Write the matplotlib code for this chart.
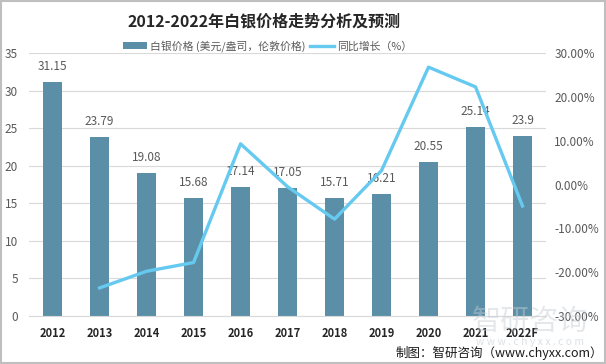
import matplotlib.pyplot as plt
from matplotlib.ticker import FuncFormatter
import numpy as np

plt.rcParams['font.family'] = ['Noto Sans CJK SC', 'DejaVu Sans']

years = ['2012', '2013', '2014', '2015', '2016', '2017', '2018', '2019', '2020', '2021', '2022F']
price = [31.15, 23.79, 19.08, 15.68, 17.14, 17.05, 15.71, 16.21, 20.55, 25.14, 23.9]
# growth in %, no value for 2012
growth = [np.nan, -23.6, -19.8, -17.8, 9.3, -0.5, -7.9, 3.2, 26.8, 22.3, -4.9]

bar_color = '#5b8fa7'
line_color = '#66c9f0'
grey = '#595959'

fig = plt.figure(figsize=(6.06, 3.64), dpi=100)
ax = fig.add_axes([0.048, 0.132, 0.853, 0.722])
ax2 = ax.twinx()

x = np.arange(len(years))
bars = ax.bar(x, price, width=0.4, color=bar_color, zorder=2)
for xi, v in zip(x, price):
    ax.text(xi, v + 1.2, f'{v:g}', ha='center', va='bottom', fontsize=8.5, color=grey)

ln, = ax2.plot(x, growth, color=line_color, lw=2.4, zorder=3)

ax.set_xlim(-0.5, len(years) - 0.5)
ax.set_ylim(0, 35)
ax.set_yticks(range(0, 36, 5))
ax2.set_ylim(-30, 30)
ax2.set_yticks(range(-30, 31, 10))
ax2.yaxis.set_major_formatter(FuncFormatter(lambda v, p: f'{v:.2f}%'))

ax.set_xticks(x)
ax.set_xticklabels(years, fontsize=8, fontweight='bold', color='#262626')
ax.grid(axis='y', color='#d9d9d9', lw=0.8, zorder=0)
ax.set_axisbelow(True)
for a in (ax, ax2):
    for s in a.spines.values():
        s.set_visible(False)
    a.tick_params(length=0, labelsize=8.5, labelcolor=grey)
ax.tick_params(axis='x', pad=8, labelsize=8, labelcolor='#262626')
ax.spines['bottom'].set_visible(True)
ax.spines['bottom'].set_color('#d9d9d9')
ax.tick_params(axis='y', pad=8)
ax2.tick_params(axis='y', pad=6)

fig.text(0.435, 0.94, '2012-2022年白银价格走势分析及预测', ha='center', va='center',
         fontsize=11.5, fontweight='bold', color='#262626')
fig.legend([bars, ln], ['白银价格 (美元/盎司，伦敦价格)', '同比增长（%）'], loc='center',
           bbox_to_anchor=(0.442, 0.874), ncol=2, frameon=False, fontsize=7.8,
           labelcolor=grey, handlelength=2.2, handleheight=0.6, columnspacing=0.4, handletextpad=0.3)

# watermark
fig.text(0.875, 0.115, '智研咨询', ha='center', va='center', fontsize=21, color='#c5ced4', alpha=0.45)
fig.text(0.875, 0.06, 'w w w . c h y x x . c o m', ha='center', va='center', fontsize=7.5, color='#c5ced4', alpha=0.6)
fig.text(0.995, 0.03, '制图：智研咨询（www.chyxx.com）', ha='right', va='center', fontsize=9, color='#1a1a1a')

fig.patches.append(plt.Rectangle((0.002, 0.003), 0.996, 0.994, transform=fig.transFigure,
                                 fill=False, edgecolor='#bfbfbf', lw=1.5))

fig.savefig('out.png', dpi=100)
